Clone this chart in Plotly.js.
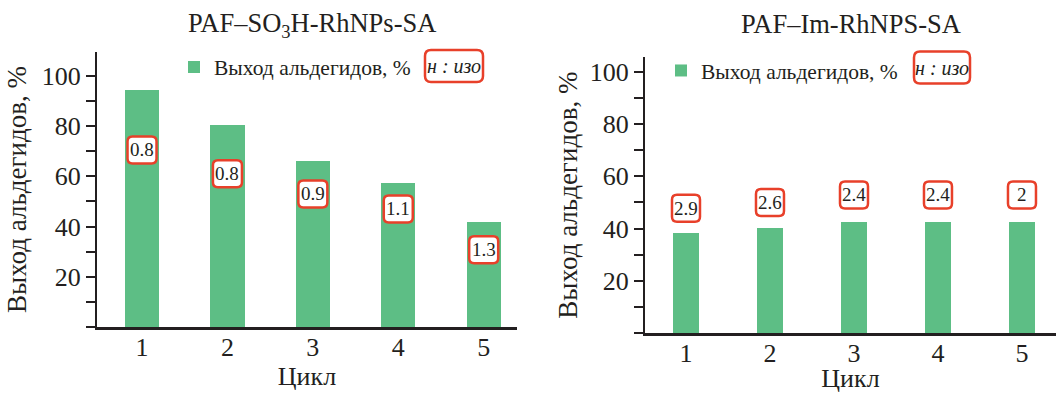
<!DOCTYPE html>
<html>
<head>
<meta charset="utf-8">
<script src="https://cdn.plot.ly/plotly-3.0.1.min.js"></script>
<style>
  html, body { margin: 0; padding: 0; background: #fff; }
  #chart { width: 1056px; height: 393px; }
</style>
</head>
<body>
<div id="chart"></div>
<script>
// Recycling runs of the two catalysts
const cycles = [1, 2, 3, 4, 5];
const cycleTickText = ['1', '2', '3', '4', '5'];

// Aldehyde yield, %
const yieldSO3H = [94.4, 80.4, 66, 57.2, 42];
const yieldIm = [38.2, 40.1, 42.4, 42.4, 42.4];

// n : iso ratio printed for every cycle
const ratioSO3H = [0.8, 0.8, 0.9, 1.1, 1.3];
const ratioIm = [2.9, 2.6, 2.4, 2.4, 2];

const yTickVals = [20, 40, 60, 80, 100];
const yTickText = ['20', '40', '60', '80', '100'];

const seriesName = 'Выход альдегидов, %';
const ratioLegend = '<i>н : изо</i>';
const titleSO3H = 'PAF–SO<sub>3</sub>H-RhNPs-SA';
const titleIm = 'PAF–Im-RhNPS-SA';

// Where the ratio badges sit along the yield axis
const badgeYSO3H = [70.5, 61, 53, 47, 30.8];
const badgeYIm = [47.8, 50, 52.9, 52.9, 52.9];

const FONT = 'Liberation Serif, Times New Roman, serif';
const INK = '#231f20';
const GREEN = '#5dbe85';
const RED = '#e8402a';

function roundedRect(w, h, r) {
  const x = w / 2, y = h / 2;
  return `M ${-x + r},${-y} L ${x - r},${-y} Q ${x},${-y} ${x},${-y + r} ` +
         `L ${x},${y - r} Q ${x},${y} ${x - r},${y} L ${-x + r},${y} ` +
         `Q ${-x},${y} ${-x},${y - r} L ${-x},${-y + r} Q ${-x},${-y} ${-x + r},${-y} Z`;
}

const traces = [
  {
    type: 'bar', x: cycles, y: yieldSO3H, width: 0.4,
    name: seriesName, marker: { color: GREEN },
    xaxis: 'x', yaxis: 'y', legend: 'legend', hoverinfo: 'x+y'
  },
  {
    type: 'bar', x: cycles, y: yieldIm, width: 0.31,
    name: seriesName, marker: { color: GREEN },
    xaxis: 'x2', yaxis: 'y2', legend: 'legend2', hoverinfo: 'x+y'
  }
];

function yAxis(domain, top, anchor, standoff) {
  return {
    domain: domain, range: [0, top], autorange: false, anchor: anchor,
    tickmode: 'array', tickvals: yTickVals, ticktext: yTickText,
    ticks: 'outside', ticklen: 9, tickwidth: 2, tickcolor: INK,
    minor: { tick0: 0, dtick: 10, ticks: 'outside', ticklen: 9, tickwidth: 2, tickcolor: INK },
    showline: true, linewidth: 2, linecolor: INK,
    showgrid: false, zeroline: false,
    tickfont: { family: FONT, size: 26, color: INK },
    title: { text: seriesName, font: { family: FONT, size: 27, color: INK }, standoff: standoff }
  };
}

function xAxis(domain, range, anchor, standoff) {
  return {
    domain: domain, range: range, autorange: false, anchor: anchor,
    tickmode: 'array', tickvals: cycles, ticktext: cycleTickText,
    ticks: '', showline: true, linewidth: 2.5, linecolor: INK,
    showgrid: false, zeroline: false, ticklabelstandoff: -5,
    tickfont: { family: FONT, size: 26, color: INK },
    title: { text: 'Цикл', font: { family: FONT, size: 26, color: INK }, standoff: standoff }
  };
}

const annotations = [];
const shapes = [];

function addBadges(values, ys, xref, yref, w, h) {
  values.forEach((v, i) => {
    shapes.push({
      type: 'path', xref: xref, yref: yref,
      xsizemode: 'pixel', ysizemode: 'pixel',
      xanchor: cycles[i], yanchor: ys[i],
      path: roundedRect(w, h, 5),
      fillcolor: '#ffffff', line: { color: RED, width: 2.5 }
    });
    annotations.push({
      xref: xref, yref: yref, x: cycles[i], y: ys[i],
      text: String(v), showarrow: false,
      font: { family: FONT, size: 19, color: INK }
    });
  });
}
addBadges(ratioSO3H, badgeYSO3H, 'x', 'y', 29, 27);
addBadges(ratioIm, badgeYIm, 'x2', 'y2', 28, 27);

// Panel titles
annotations.push({
  xref: 'paper', yref: 'paper', x: 312 / 1056, y: 1 - 25 / 393,
  xanchor: 'center', yanchor: 'middle', showarrow: false, text: titleSO3H,
  font: { family: FONT, size: 26.5, color: INK }
});
annotations.push({
  xref: 'paper', yref: 'paper', x: 851 / 1056, y: 1 - 24 / 393,
  xanchor: 'center', yanchor: 'middle', showarrow: false, text: titleIm,
  font: { family: FONT, size: 26.5, color: INK }
});

// "н : изо" keys beside the legends
[[454, 66, 58], [942, 67.5, 56]].forEach(([cx, cy, w]) => {
  shapes.push({
    type: 'path', xref: 'paper', yref: 'paper',
    xsizemode: 'pixel', ysizemode: 'pixel',
    xanchor: cx / 1056, yanchor: 1 - cy / 393,
    path: roundedRect(w, 32, 6),
    fillcolor: '#ffffff', line: { color: RED, width: 2.5 }
  });
  annotations.push({
    xref: 'paper', yref: 'paper', x: cx / 1056, y: 1 - cy / 393,
    xanchor: 'center', yanchor: 'middle', showarrow: false, text: ratioLegend,
    font: { family: FONT, size: 20, color: INK }
  });
});

const legendBase = {
  xanchor: 'left', yanchor: 'middle', bgcolor: 'rgba(0,0,0,0)',
  font: { family: FONT, size: 21.5, color: INK }, itemwidth: 30, tracegroupgap: 0
};

const layout = {
  width: 1056, height: 393,
  margin: { l: 0, r: 0, t: 0, b: 0 },
  paper_bgcolor: '#ffffff', plot_bgcolor: '#ffffff',
  font: { family: FONT, color: INK },
  bargap: 0,
  xaxis: xAxis([97 / 1056, 517 / 1056], [0.473, 5.39], 'y', 2),
  yaxis: yAxis([1 - 327 / 393, 1 - 52 / 393], 109.5, 'x', 7),
  xaxis2: xAxis([645 / 1056, 1], [0.512, 5.405], 'y2', 5),
  yaxis2: yAxis([1 - 333.3 / 393, 1 - 57 / 393], 105.6, 'x2', 4),
  showlegend: true,
  legend: Object.assign({ x: 174 / 1056, y: 1 - 67 / 393 }, legendBase),
  legend2: Object.assign({ x: 661 / 1056, y: 1 - 70.5 / 393 }, legendBase),
  annotations: annotations,
  shapes: shapes
};

Plotly.newPlot('chart', traces, layout, { displayModeBar: false, staticPlot: true });
</script>
</body>
</html>
